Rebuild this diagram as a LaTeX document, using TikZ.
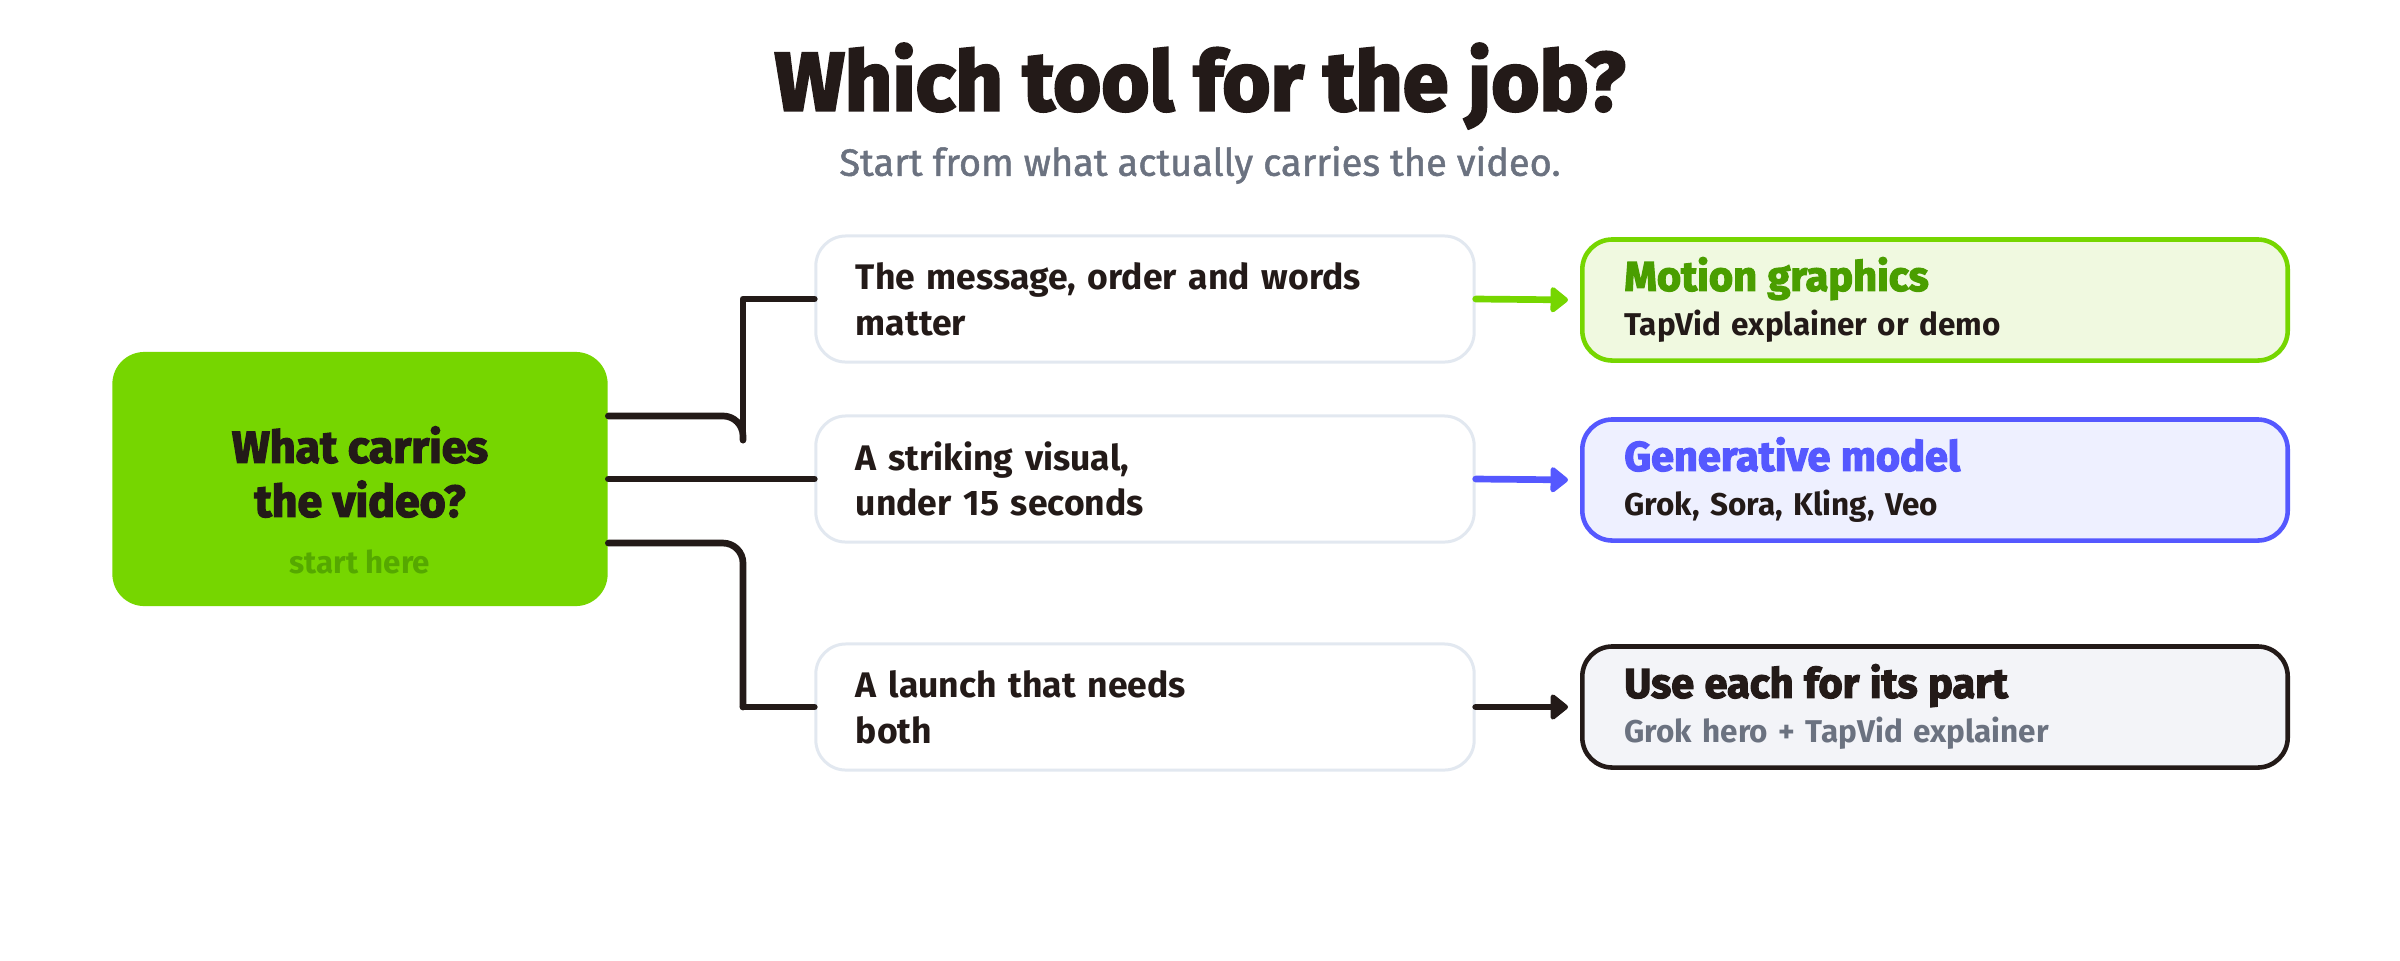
\documentclass[tikz,border=0pt]{standalone}
\usepackage{fontspec}
\setmainfont{Fira Sans}
\newfontfamily\heavyfont{Fira Sans}[BoldFeatures={FakeBold=3}]
\newfontfamily\medfont{Fira Sans}[UprightFeatures={FakeBold=1.3}]
\newcommand{\heavy}{\heavyfont\bfseries}
\newcommand{\semi}{\normalfont\bfseries}
\usetikzlibrary{arrows.meta,positioning}

\definecolor{ink}{HTML}{231A18}
\definecolor{lime}{HTML}{76D600}
\definecolor{limedk}{HTML}{4A9E00}
\definecolor{limetxt}{HTML}{55A800}
\definecolor{limebg}{HTML}{F0F9E0}
\definecolor{violet}{HTML}{5558FF}
\definecolor{violetbg}{HTML}{EEF0FF}
\definecolor{slatebg}{HTML}{F3F4F8}
\definecolor{edge}{HTML}{E2E8F0}
\definecolor{muted}{HTML}{6B7280}

\tikzset{
  link/.style={draw=ink, line width=1.9pt, line cap=round, line join=round},
  choice/.style={draw=edge, line width=0.85pt, fill=white, rounded corners=0.3cm,
    minimum width=6.58cm, minimum height=1.26cm, text width=5.78cm, inner xsep=0.4cm,
    align=left, text=ink, font=\semi\fontsize{10.1}{13}\selectfont},
  outcome/.style={line width=1.3pt, rounded corners=0.3cm,
    minimum width=7.05cm, minimum height=1.21cm, text width=6.21cm, inner xsep=0.42cm,
    align=left, text=ink, font=\semi\fontsize{8.95}{12.8}\selectfont},
  pick/.style={-{Triangle[length=0.19cm,width=0.29cm,round]}, line width=1.9pt,
    line cap=round, shorten >=0.12cm},
}

\begin{document}
\begin{tikzpicture}[x=0.01cm, y=-0.01cm]
\fill[white] (0,0) rectangle (2400,960);
\useasboundingbox (0,0) rectangle (2400,960);

% title
\node[text=ink, font=\heavy\fontsize{23.5}{27}\selectfont] (title) at (1200,86) {Which tool for the job?};
\node[text=muted, font=\medfont\fontsize{10.8}{13}\selectfont] (subtitle) at (1200,165) {Start from what actually carries the video.};

% start
\node[fill=lime, rounded corners=0.32cm, minimum width=4.95cm, minimum height=2.54cm] (start) at (360,479) {};
\node[text=ink, align=center, font=\heavy\fontsize{12.7}{15.4}\selectfont] (question) at (360,472) {What carries\\the video?};
\node[text=limetxt, font=\semi\fontsize{8.9}{10}\selectfont] (hint) at (360,562) {start here};

% choices
\node[choice] (msg) at (1145,299) {The message, order and words\\matter};
\node[choice] (visual) at (1145,479) {A striking visual,\\under 15 seconds};
\node[choice] (launch) at (1145,707) {A launch that needs\\both};

% outcomes
\node[outcome, draw=lime, fill=limebg] (motion) at (1935,300)
  {{\heavy\fontsize{11.8}{12.8}\selectfont\color{limedk}Motion graphics}\\TapVid explainer or demo};
\node[outcome, draw=violet, fill=violetbg] (gen) at (1935,480)
  {{\heavy\fontsize{11.8}{12.8}\selectfont\color{violet}Generative model}\\Grok, Sora, Kling, Veo};
\node[outcome, draw=ink, fill=slatebg] (mix) at (1935,707)
  {{\heavy\fontsize{11.8}{12.8}\selectfont Use each for its part}\\{\color{muted}Grok hero + TapVid explainer}};

% branches
\coordinate (fork1) at (743,440);
\coordinate (fork3) at (743,707);
\draw[link, rounded corners=0.2cm] ([yshift=0.63cm]start.east) -| (fork1);
\draw[link] (fork1) |- (msg.west);
\draw[link] (start.east) -- (visual.west);
\draw[link, rounded corners=0.2cm] ([yshift=-0.64cm]start.east) -| (fork3);
\draw[link] (fork3) -- (launch.west);

% picks
\draw[pick, lime] (msg.east) -- (motion.west);
\draw[pick, violet] (visual.east) -- (gen.west);
\draw[pick, ink] (launch.east) -- (mix.west);
\end{tikzpicture}
\end{document}
